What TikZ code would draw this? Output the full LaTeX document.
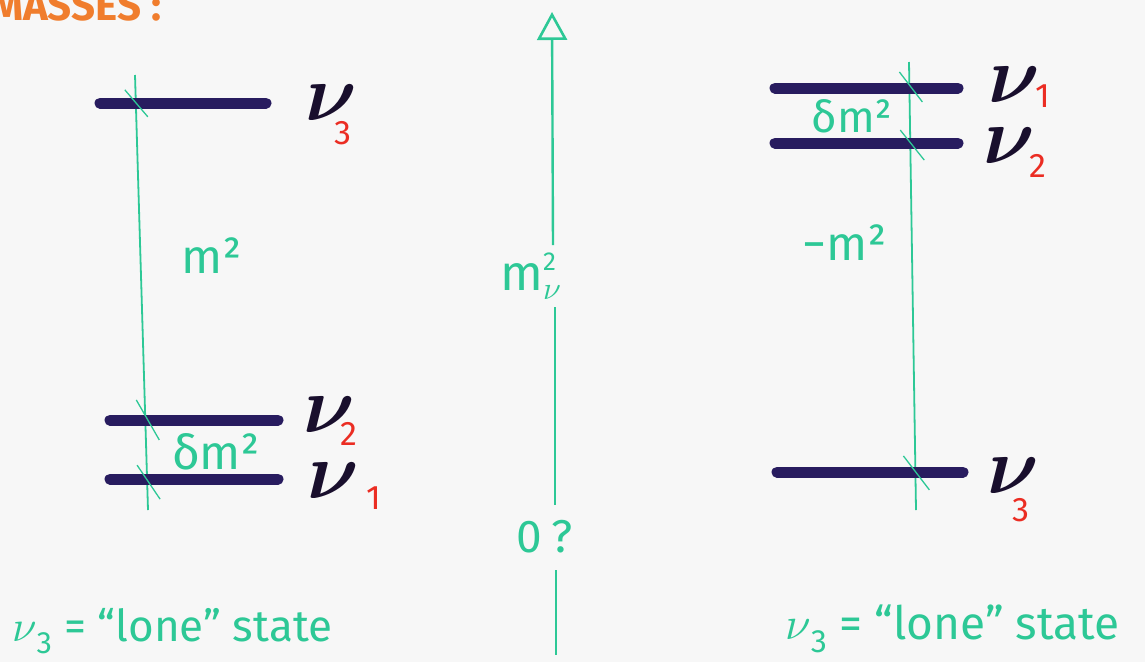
\documentclass[tikz,border=0pt]{standalone}
\usepackage{amsmath}
\usepackage{graphicx}
\usepackage{fontspec}
\setmainfont{Fira Sans}
\usetikzlibrary{arrows.meta,calc}
\definecolor{gr}{RGB}{45,200,150}
\definecolor{navy}{RGB}{40,28,95}
\definecolor{nuink}{RGB}{25,15,45}
\definecolor{rd}{RGB}{235,45,35}
\definecolor{orng}{RGB}{240,125,45}
\newcommand\nusub[3]{\textcolor{nuink}{\scalebox{8}{\normalsize$\boldsymbol{\nu}$}}\kern#2pt\smash{\raisebox{#3pt}{\textcolor{rd}{\fontsize{34}{34}\selectfont #1}}}}
\newcommand\nutxt[1]{\scalebox{#1}{\normalsize$\nu$}}
\begin{document}
\begin{tikzpicture}[x=1pt,y=-1pt,
  level/.style={navy,line width=11pt,line cap=round},
  guide/.style={gr,line width=1.8pt},
  tickmk/.style={gr,line width=1.3pt},
  axisline/.style={gr,line width=2.4pt},
  lbl/.style={gr,font=\fontsize{48}{48}\selectfont,inner sep=0pt},
  nulab/.style={inner sep=0pt,anchor=base west},
  note/.style={gr,inner sep=0pt,anchor=base west}]
\useasboundingbox (0,0) rectangle (1145,662);
\clip (0,0) rectangle (1145,662);
\fill[white!97!black] (0,0) rectangle (1145,662);
% title
\node[orng,font=\fontsize{42}{42}\selectfont\bfseries,inner sep=0pt,anchor=base west] (title) at (-10,20) {MASSES :};
% ---------- left spectrum ----------
\coordinate (LgT) at (135,75);
\coordinate (LgB) at (148,510);
\draw[guide] (LgT) -- (LgB);
\coordinate (La3) at (100,103); \coordinate (Lb3) at (266,103);
\coordinate (La2) at (110,420); \coordinate (Lb2) at (278,420);
\coordinate (La1) at (110,479); \coordinate (Lb1) at (278,479);
\draw[level] (La3) -- (Lb3);
\draw[level] (La2) -- (Lb2);
\draw[level] (La1) -- (Lb1);
\coordinate (Lx3) at ($(LgT)!0.064!(LgB)$);
\coordinate (Lx2) at ($(LgT)!0.793!(LgB)$);
\coordinate (Lx1) at ($(LgT)!0.929!(LgB)$);
\draw[tickmk] ($(Lx3)+(-11,-13)$) -- ($(Lx3)+(12,14)$);
\draw[tickmk] ($(Lx2)+(-9,-20)$) -- ($(Lx2)+(14,20)$);
\draw[tickmk] ($(Lx1)+(-10,-14)$) -- ($(Lx1)+(13,20)$);
\node[nulab] (nuL3) at (305,120) {\nusub{3}{-22}{-24}};
\node[nulab] (nuL2) at (303,432) {\nusub{2}{-14}{-13}};
\node[nulab] (nuL1) at (307,498) {\nusub{1}{8}{-11}};
\node[lbl] (mL) at (212,256) {m²};
\node[lbl] (dmL) at (216,452) {δm²};
\node[note,font=\fontsize{44}{44}\selectfont] (noteL) at (12,641) {\nutxt{4.4}\textsubscript{3} = “lone” state};
% ---------- central axis ----------
\coordinate (ax0) at (552,12);
\coordinate (ax1) at (553,245);
\coordinate (ax2) at (555,307);
\coordinate (ax3) at (555,505);
\coordinate (ax4) at (556,570);
\coordinate (ax5) at (556,655);
\draw[axisline,-{Triangle[open,length=28pt,width=30pt,line width=2.6pt]}] (ax1) -- (ax0);
\draw[axisline] (ax2) -- (ax3);
\draw[axisline] (ax4) -- (ax5);
\node[gr,inner sep=0pt,anchor=base west,font=\fontsize{50}{50}\selectfont] (msq) at (500,290)
  {m\makebox[0pt][l]{\raisebox{20pt}{\fontsize{26}{26}\selectfont 2}}\raisebox{-9pt}{\nutxt{3.2}}};
\node[gr,inner sep=0pt,anchor=base west,font=\fontsize{46}{46}\selectfont] (zero) at (516,552) {0\hspace{10pt}?};
% ---------- right spectrum ----------
\coordinate (RgT) at (909,62);
\coordinate (RgB) at (916,510);
\draw[guide] (RgT) -- (RgB);
\coordinate (Ra1) at (775,88); \coordinate (Rb1) at (958,88);
\coordinate (Ra2) at (775,143); \coordinate (Rb2) at (958,143);
\coordinate (Ra3) at (777,472); \coordinate (Rb3) at (963,472);
\draw[level] (Ra1) -- (Rb1);
\draw[level] (Ra2) -- (Rb2);
\draw[level] (Ra3) -- (Rb3);
\coordinate (Rx1) at ($(RgT)!0.058!(RgB)$);
\coordinate (Rx2) at ($(RgT)!0.181!(RgB)$);
\coordinate (Rx3) at ($(RgT)!0.915!(RgB)$);
\draw[tickmk] ($(Rx1)+(-10,-16)$) -- ($(Rx1)+(13,14)$);
\draw[tickmk] ($(Rx2)+(-10,-13)$) -- ($(Rx2)+(14,17)$);
\draw[tickmk] ($(Rx3)+(-12,-16)$) -- ($(Rx3)+(14,18)$);
\node[nulab] (nuR1) at (988,102) {\nusub{1}{-4}{-5}};
\node[nulab] (nuR2) at (983,163) {\nusub{2}{-5}{-14}};
\node[nulab] (nuR3) at (987,493) {\nusub{3}{-26}{-28}};
\node[lbl,font=\fontsize{44}{44}\selectfont] (dmR) at (852,116) {δm²};
\node[lbl] (mR) at (845,243) {−m²};
\node[note,font=\fontsize{46}{46}\selectfont] (noteR) at (785,639) {\nutxt{4.6}\textsubscript{3} = “lone” state};
\end{tikzpicture}
\end{document}
